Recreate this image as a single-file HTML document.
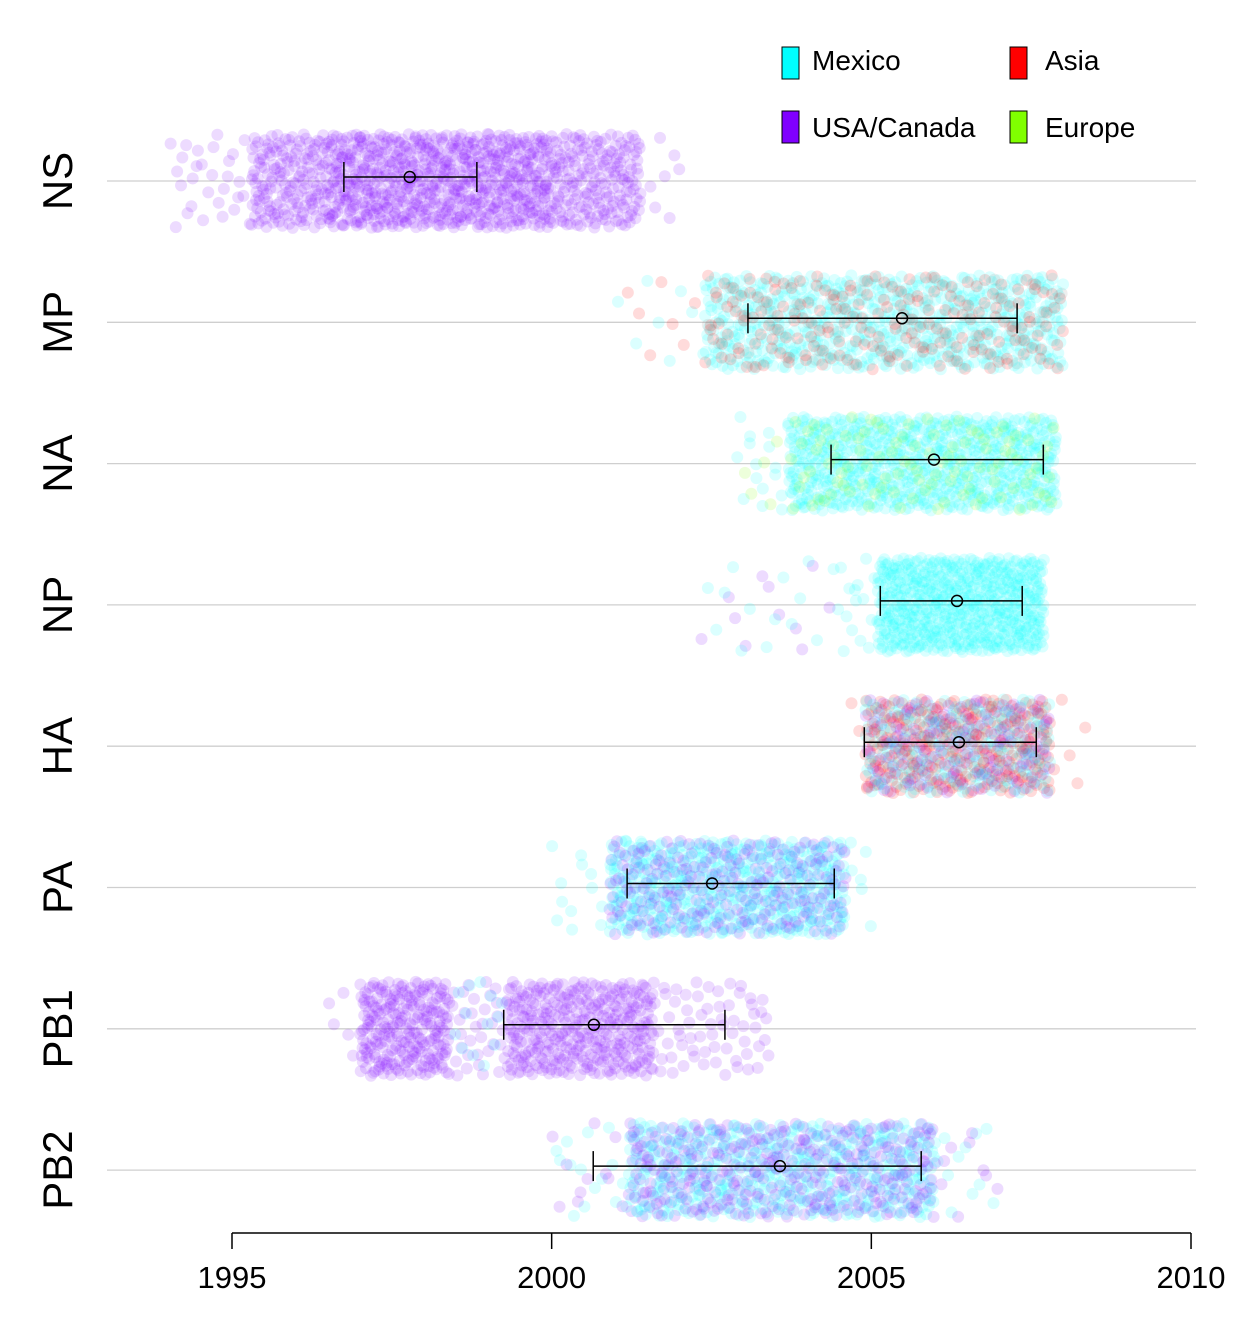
<!DOCTYPE html>
<html><head><meta charset="utf-8">
<style>
body{margin:0;background:#fff;}
svg text{font-family:"Liberation Sans",Arial,sans-serif;}
</style></head>
<body>
<svg id="chart" width="1260" height="1329" viewBox="0 0 1260 1329" xmlns="http://www.w3.org/2000/svg">
<g id="grid"></g>
<g id="dots"></g>
<g id="bars"></g>
<g id="ylabels"></g>
<g id="xaxis"></g>
<g>
  <g><rect x="782" y="47" width="17" height="32" fill="#00ffff" stroke="#000" stroke-width="1"/><text x="812" y="70" font-size="28">Mexico</text></g>
  <g><rect x="1010" y="47" width="17" height="32" fill="#ff0000" stroke="#000" stroke-width="1"/><text x="1045" y="70" font-size="28">Asia</text></g>
  <g><rect x="782" y="111" width="17" height="32" fill="#8000ff" stroke="#000" stroke-width="1"/><text x="812" y="137" font-size="28">USA/Canada</text></g>
  <g><rect x="1010" y="111" width="17" height="32" fill="#80ff00" stroke="#000" stroke-width="1"/><text x="1045" y="137" font-size="28">Europe</text></g>
</g>
</svg>
<script>
const genes = ["NS","MP","NA","NP","HA","PA","PB1","PB2"];
const means = [1997.78,2005.48,2005.98,2006.34,2006.37,2002.51,2000.66,2003.57];
const lows  = [1996.75,2003.07,2004.37,2005.14,2004.89,2001.18,1999.25,2000.65];
const highs = [1998.83,2007.28,2007.69,2007.36,2007.58,2004.42,2002.71,2005.78];
const xTicks = [1995,2000,2005,2010];
// clouds: [geneIndex, startYear, endYear, colorKey, dotsPerYear]
const clouds = [
 [0,1995.3,2001.4,"U",140],[0,1996.5,2000.0,"U",60],[0,1994.0,1995.3,"U",22],[0,2001.4,2002.0,"U",12],
 [1,2002.4,2008.0,"M",110],[1,2002.4,2008.0,"A",35],[1,2002.4,2008.0,"G",8],[1,2001.0,2002.4,"M",6],[1,2001.0,2002.4,"A",5],
 [2,2003.7,2007.9,"M",160],[2,2003.7,2007.9,"E",25],[2,2002.9,2003.7,"M",20],[2,2002.9,2003.7,"E",6],
 [3,2005.1,2007.7,"M",230],[3,2004.4,2005.1,"M",25],[3,2002.3,2004.4,"U",5],[3,2002.3,2004.4,"M",6],
 [4,2004.9,2007.8,"A",100],[4,2004.9,2007.8,"U",55],[4,2004.9,2007.8,"M",70],[4,2004.5,2008.4,"A",8],
 [5,2000.9,2004.6,"M",120],[5,2000.9,2004.6,"U",65],[5,2000.0,2005.0,"M",15],
 [6,1997.0,1998.4,"U",180],[6,1998.4,1999.3,"U",40],[6,1998.4,1999.3,"M",15],[6,1999.3,2001.6,"U",160],[6,2001.6,2003.4,"U",35],[6,1996.4,1997.0,"U",8],
 [7,2001.2,2006.0,"M",90],[7,2001.2,2006.0,"U",65],[7,2000.0,2007.0,"M",12],[7,2000.0,2007.0,"U",10]
];
const colors = {U:"#8000ff",M:"#00ffff",A:"#ff0000",E:"#80ff00",G:"#888888"};
const NS="http://www.w3.org/2000/svg";
const x = yr => 232 + (yr-1995)*(1191-232)/15;
const yRow = i => 181 + i*141.3;
function halton(k,b){let f=1,r=0;while(k>0){f/=b;r+=f*(k%b);k=Math.floor(k/b);}return r;}
function mk(tag,attrs,parent){const e=document.createElementNS(NS,tag);for(const k in attrs)e.setAttribute(k,attrs[k]);parent.appendChild(e);return e;}
const grid=document.getElementById('grid'),dots=document.getElementById('dots'),bars=document.getElementById('bars'),yl=document.getElementById('ylabels'),xa=document.getElementById('xaxis');
genes.forEach((g,i)=>{
  const l=mk('line',{x1:107,x2:1196,y1:yRow(i),y2:yRow(i),stroke:'#cfcfcf','stroke-width':1.3},grid);
  
  
  const t=mk('text',{x:0,y:0,'font-size':42,'text-anchor':'middle',transform:`translate(72,${yRow(i)}) rotate(-90)`},yl);
  t.textContent=g;
  
  
});
clouds.forEach((c,ci)=>{
  const [gi,s,e,ck,d]=c;
  const n=Math.round((e-s)*d);
  const grp=mk('g',{fill:colors[ck],'fill-opacity':0.14},dots);
  
  
  const off=ci*1000+1;
  for(let k=0;k<n;k++){
    const fx=halton(k+off,2);
    const fy=halton(k+off,3);
    mk('circle',{cx:x(s+fx*(e-s)),cy:yRow(gi)-47+fy*94,r:6},grp);
  }
});
genes.forEach((g,i)=>{
  const y=yRow(i)-4;
  const b=mk('g',{stroke:'#000','stroke-width':1.5,fill:'none'},bars);
  
  
  mk('line',{x1:x(lows[i]),x2:x(highs[i]),y1:y,y2:y},b);
  mk('line',{x1:x(lows[i]),x2:x(lows[i]),y1:y-15,y2:y+15},b);
  mk('line',{x1:x(highs[i]),x2:x(highs[i]),y1:y-15,y2:y+15},b);
  mk('circle',{cx:x(means[i]),cy:y,r:5.5},b);
});
mk('line',{x1:x(1995),x2:x(2010),y1:1233,y2:1233,stroke:'#000','stroke-width':1.5},xa);
xTicks.forEach(t=>{
  mk('line',{x1:x(t),x2:x(t),y1:1233,y2:1249,stroke:'#000','stroke-width':1.5},xa);
  const tx=mk('text',{x:x(t),y:1288,'font-size':31,'text-anchor':'middle'},xa);
  tx.textContent=t;
  
  
});
</script>
</body></html>
